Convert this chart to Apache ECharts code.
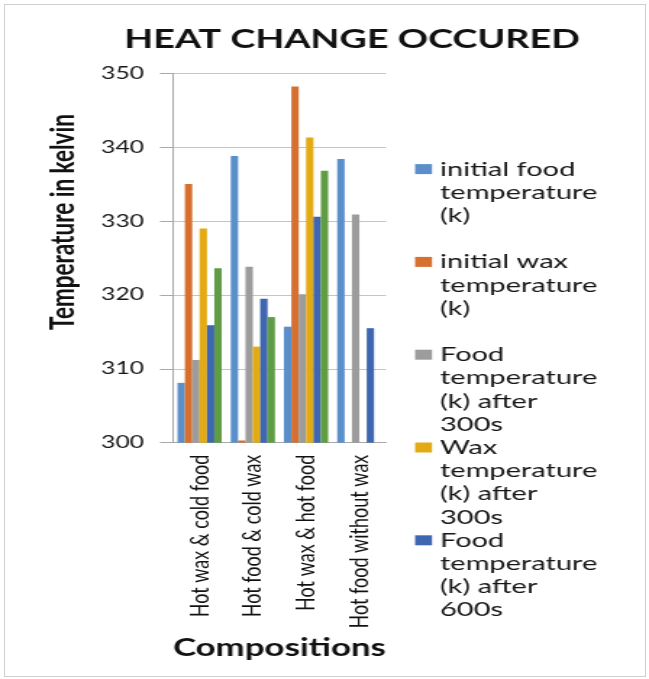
<!DOCTYPE html>
<html>
<head>
<meta charset="utf-8">
<script src="https://cdn.jsdelivr.net/npm/echarts@6/dist/echarts.min.js"></script>
<style>
  html, body { margin: 0; padding: 0; background: #fff; }
  #wrap { position: relative; width: 649px; height: 679px; overflow: hidden; background: #fff; }
  #chart { position: absolute; left: 0; top: 0; width: 448px; height: 679px; transform: scaleX(1.4487); transform-origin: 0 0; }
  #frame { position: absolute; left: 4px; top: 4px; width: 640px; height: 671px; border: 1px solid #cfcfcf; pointer-events: none; }
</style>
</head>
<body>
<div id="wrap"><div id="chart"></div><div id="frame"></div></div>
<script>
// ---- data ----
const categories = ['Hot wax & cold food', 'Hot food & cold wax', 'Hot wax & hot food', 'Hot food without wax'];
const initialFood = [308.1, 338.8, 315.7, 338.4];
const initialWax  = [335.0, 300.3, 348.2, null];
const food300     = [311.2, 323.8, 320.1, 330.9];
const wax300      = [329.0, 313.0, 341.3, null];
const food600     = [315.9, 319.5, 330.6, 315.5];
const wax600      = [323.6, 317.0, 336.8, null];
const seriesNames = [
  'initial food temperature (k)',
  'initial wax temperature (k)',
  'Food temperature (k) after 300s',
  'Wax temperature (k) after 300s',
  'Food temperature (k) after 600s',
  'Wax temperature (k) after 600s'
];
const legendLines = [
  ['initial food', 'temperature', '(k)', ' '],
  ['initial wax', 'temperature', '(k)', ' '],
  ['Food', 'temperature', '(k) after', '300s'],
  ['Wax', 'temperature', '(k) after', '300s'],
  ['Food', 'temperature', '(k) after', '600s']
];
const yTicks = { min: 300, max: 350, interval: 10 };
const colors = ['#5A8FC9', '#D57031', '#9C9C9C', '#E2AB14', '#3E66B1', '#5F9C44'];

// ---- chart ----
const FONT = 'Lato, "Open Sans", sans-serif';
const LH = 23.2;
const rich = {
  t: { fontFamily: FONT, fontSize: 20, lineHeight: LH, height: LH, color: '#161616' },
  g: { width: 5.5, lineHeight: LH, height: LH },
  sp: { width: 17.2, lineHeight: LH, height: LH }
};
colors.forEach((c, i) => {
  rich['i' + i] = { width: 11.7, height: 10, backgroundColor: c, lineHeight: LH, verticalAlign: 'middle' };
});

const seriesData = [initialFood, initialWax, food300, wax300, food600, wax600];
const chart = echarts.init(document.getElementById('chart'), null, { renderer: 'canvas' });
chart.setOption({
  backgroundColor: '#fff',
  animation: false,
  color: colors,
  title: {
    text: 'HEAT CHANGE OCCURED',
    left: 243, top: 27, textAlign: 'center', padding: 0,
    textStyle: { fontFamily: FONT, fontWeight: 'bold', fontSize: 26, color: '#111' }
  },
  grid: { left: 119.4, top: 73.3, width: 147, height: 369.4, containLabel: false },
  legend: {
    orient: 'vertical',
    left: 281.5, top: 157.5, padding: 0, itemGap: 0,
    itemWidth: 0, itemHeight: 0,
    itemStyle: { opacity: 0 },
    selectedMode: false,
    data: seriesNames.slice(0, 5),
    formatter: function (name) {
      const idx = seriesNames.indexOf(name);
      const lines = legendLines[idx];
      return lines.map((l, k) => (k === 0 ? '{i' + idx + '|}{g|}' : '{sp|}') + '{t|' + l + '}').join('\n');
    },
    textStyle: { rich: rich }
  },
  xAxis: {
    type: 'category',
    data: categories,
    name: 'Compositions',
    nameLocation: 'middle',
    nameGap: 164,
    nameTextStyle: { fontFamily: FONT, fontWeight: 'bold', fontSize: 24, color: '#111' },
    axisLine: { lineStyle: { color: '#a8a8a8', width: 1 } },
    axisTick: { show: false },
    axisLabel: { rotate: 90, interval: 0, margin: 12, fontFamily: FONT, fontSize: 18, color: '#111' }
  },
  yAxis: {
    type: 'value',
    min: yTicks.min, max: yTicks.max, interval: yTicks.interval,
    axisLine: { show: true, lineStyle: { color: '#a8a8a8', width: 1 } },
    axisTick: { show: true, length: 9, lineStyle: { color: '#a8a8a8' } },
    axisLabel: { margin: 20, fontFamily: FONT, fontSize: 17, color: '#161616' },
    splitLine: { lineStyle: { color: '#c4c4c4', width: 1 } }
  },
  graphic: [{
    type: 'text',
    x: 43.5, y: 222, rotation: Math.PI / 2,
    style: { text: 'Temperature in kelvin', fontFamily: FONT, fontWeight: 'bold', fontSize: 22.5, fill: '#111', align: 'center', verticalAlign: 'middle' }
  }],
  series: seriesData.map((d, i) => ({
    name: seriesNames[i],
    type: 'bar',
    data: d,
    barGap: '0%',
    barCategoryGap: '17%'
  }))
});
</script>
</body>
</html>
